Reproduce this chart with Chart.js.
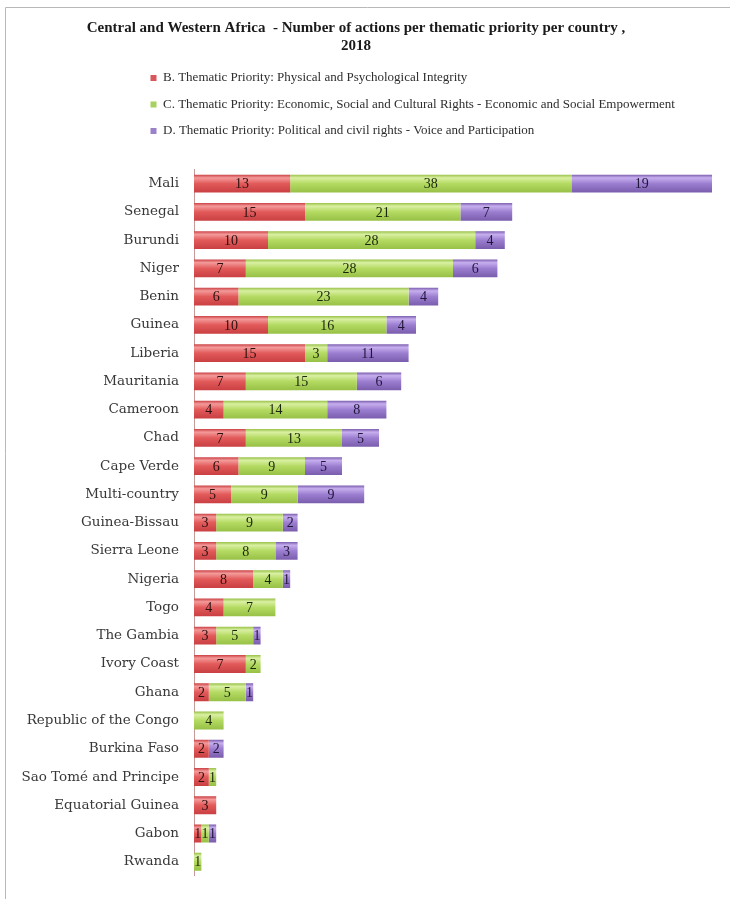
<!DOCTYPE html>
<html>
<head>
<meta charset="utf-8">
<script src="https://cdn.jsdelivr.net/npm/chart.js@4/dist/chart.umd.min.js"></script>
<style>
html,body{margin:0;padding:0;background:#fff;}
#wrap{width:730px;height:899px;position:relative;}
</style>
</head>
<body>
<div id="wrap"><canvas id="c" width="730" height="899"></canvas></div>
<script>
const countries = ["Mali","Senegal","Burundi","Niger","Benin","Guinea","Liberia","Mauritania","Cameroon","Chad","Cape Verde","Multi-country","Guinea-Bissau","Sierra Leone","Nigeria","Togo","The Gambia","Ivory Coast","Ghana","Republic of the Congo","Burkina Faso","Sao Tomé and Principe","Equatorial Guinea","Gabon","Rwanda"];
const physicalIntegrity = [13,15,10,7,6,10,15,7,4,7,6,5,3,3,8,4,3,7,2,null,2,2,3,1,null];
const economicSocial = [38,21,28,28,23,16,3,15,14,13,9,9,9,8,4,7,5,2,5,4,null,1,null,1,1];
const politicalCivil = [19,7,4,6,4,4,11,6,8,5,5,9,2,3,1,null,1,null,1,null,2,null,null,1,null];
const seriesNames = [
  "B. Thematic Priority: Physical and Psychological Integrity",
  "C. Thematic Priority: Economic, Social and Cultural Rights - Economic and Social Empowerment",
  "D. Thematic Priority: Political and civil rights - Voice and Participation"
];
const titleLines = ["Central and Western Africa  - Number of actions per thematic priority per country ,", "2018"];

const palette = [
  {top:"#f49a9a", mid:"#e25a5a", bot:"#c93f42", solid:"#d9575a"},
  {top:"#d9f0a2", mid:"#b4da62", bot:"#97c046", solid:"#a9d15f"},
  {top:"#c6aeee", mid:"#9c7ed0", bot:"#7a5cad", solid:"#9a82c9"}
];

function barFill(idx){
  return (c) => {
    const p = palette[idx];
    const ys = c.chart.scales && c.chart.scales.y;
    if (c.type !== 'data' || !ys || !c.chart.chartArea) return p.mid;
    const cy = ys.getPixelForValue(c.dataIndex);
    const g = c.chart.ctx.createLinearGradient(0, cy - 9, 0, cy + 9);
    g.addColorStop(0, p.bot);
    g.addColorStop(0.18, p.top);
    g.addColorStop(0.5, p.mid);
    g.addColorStop(1, p.bot);
    return g;
  };
}

const frame = {
  id: 'frame',
  beforeDraw(chart){
    const ctx = chart.ctx;
    ctx.save();
    ctx.strokeStyle = '#b8b8b8';
    ctx.lineWidth = 1;
    ctx.beginPath();
    ctx.moveTo(5.5, 899);
    ctx.lineTo(5.5, 7.5);
    ctx.lineTo(730, 7.5);
    ctx.stroke();
    ctx.restore();
  }
};

const legendShift = {
  id: 'legendShift',
  afterUpdate(chart){
    if (chart.legend) {
      chart.legend.left = 137;
      if (chart.legend.adjustHitBoxes) chart.legend.adjustHitBoxes();
    }
  }
};

const valueLabels = {
  id: 'valueLabels',
  afterDatasetsDraw(chart){
    const ctx = chart.ctx;
    ctx.save();
    ctx.font = '14px "Liberation Serif"';
    ctx.textAlign = 'center';
    ctx.textBaseline = 'middle';
    chart.data.datasets.forEach((ds, i) => {
      const meta = chart.getDatasetMeta(i);
      meta.data.forEach((bar, j) => {
        const v = ds.data[j];
        if (v === null || v === undefined || v === 0) return;
        const {x, y, base} = bar.getProps(['x','y','base'], true);
        ctx.fillStyle = ['#2e1010','#1a260a','#20163a'][i];
        ctx.fillText(String(v), (x + base) / 2, y + 1);
      });
    });
    ctx.restore();
  }
};

const datasets = [physicalIntegrity, economicSocial, politicalCivil].map((d, i) => ({
  label: seriesNames[i],
  data: d,
  backgroundColor: barFill(i),
  borderWidth: 0,
  barPercentage: 0.63,
  categoryPercentage: 1.0
}));

new Chart(document.getElementById('c'), {
  type: 'bar',
  data: { labels: countries, datasets },
  options: {
    indexAxis: 'y',
    responsive: false,
    animation: false,
    layout: { padding: { top: 10, right: 18, bottom: 19, left: 0 } },
    scales: {
      x: {
        stacked: true,
        min: 0,
        max: 70,
        position: 'top',
        grid: { display: false, drawTicks: false },
        border: { display: false },
        ticks: { display: false },
        afterFit(s){ s.height = 22; }
      },
      y: {
        stacked: true,
        grid: { display: false, drawTicks: false },
        border: { display: true, color: '#c49a9a', width: 1 },
        ticks: {
          padding: 15,
          color: '#383838',
          font: { family: '"DejaVu Serif"', size: 13.5 }
        },
        afterFit(s){ s.width = 194; }
      }
    },
    plugins: {
      title: {
        display: true,
        text: titleLines,
        color: '#1a1a1a',
        font: { family: '"Liberation Serif"', size: 15, weight: 'bold', lineHeight: 1.2 },
        padding: { top: 9, bottom: 3 }
      },
      legend: {
        display: true,
        position: 'top',
        align: 'start',
        labels: {
          boxWidth: 6,
          boxHeight: 6,
          padding: 13.5,
          color: '#2e2e2e',
          font: { family: '"Liberation Serif"', size: 13 },
          generateLabels(chart){
            return chart.data.datasets.map((ds, i) => ({
              text: ds.label,
              fillStyle: palette[i].solid,
              strokeStyle: palette[i].solid,
              lineWidth: 0,
              hidden: false,
              datasetIndex: i,
              fontColor: '#2e2e2e'
            }));
          }
        }
      },
      tooltip: { enabled: false }
    }
  },
  plugins: [frame, legendShift, valueLabels]
});
</script>
</body>
</html>
